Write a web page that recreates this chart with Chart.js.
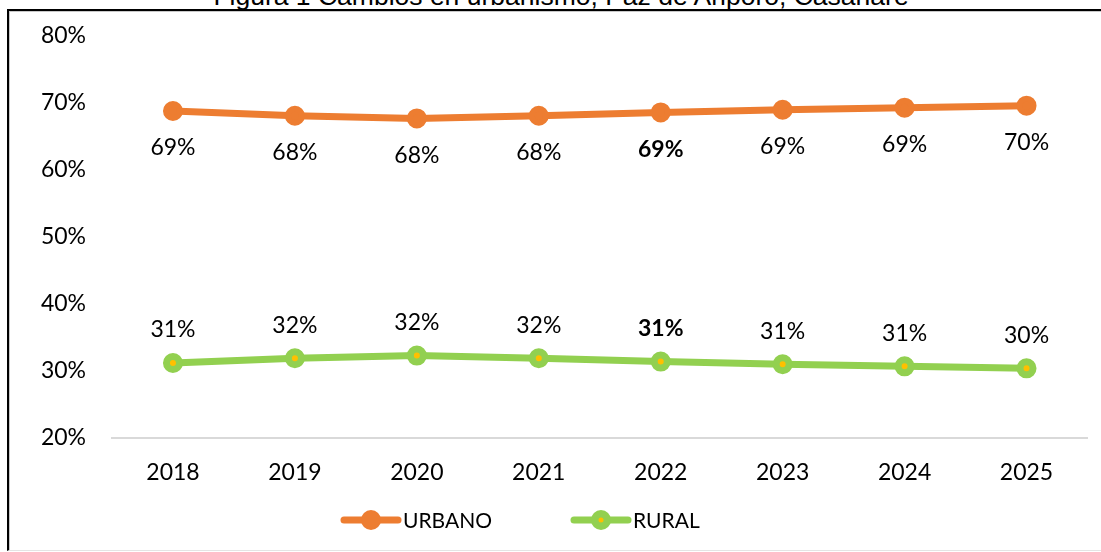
<!DOCTYPE html>
<html>
<head>
<meta charset="utf-8">
<script src="https://cdn.jsdelivr.net/npm/chart.js@4.4.1/dist/chart.umd.min.js"></script>
<style>
  html, body { margin: 0; padding: 0; background: #fff; overflow: hidden; }
  #page { width: 1101px; height: 552px; position: relative; overflow: hidden; }
  #title {
    position: absolute; left: 0; width: 1122px; top: -17px;
    text-align: center; font: 26.5px/1 "Liberation Sans", Arial, sans-serif; color: #000;
    white-space: nowrap;
  }
  #frame {
    position: absolute; left: 7px; top: 9px; width: 1092px; height: 539px;
    border-top: 2px solid #000; border-left: 2px solid #000;
    border-bottom: 1px solid #e4e4e4;
    box-shadow: inset 1px 1px 0 #c8c8c8;
  }
  #wrap { position: absolute; left: 10px; top: 12px; width: 1091px; height: 537px; }
</style>
</head>
<body>
<div id="page">
<div id="title">Figura 1 Cambios en urbanismo, Paz de Ariporo, Casanare</div>
<div id="frame"></div>
<div id="wrap"><canvas id="chart" width="1091" height="537"></canvas></div>
</div>
<script>
const years = ["2018", "2019", "2020", "2021", "2022", "2023", "2024", "2025"];
const urbano = [68.8, 68.1, 67.7, 68.1, 68.6, 69.0, 69.3, 69.6];
const rural = [31.2, 31.9, 32.3, 31.9, 31.4, 31.0, 30.7, 30.4];
const yTicks = [20, 30, 40, 50, 60, 70, 80];

const FONT = "Lato, 'Open Sans', sans-serif";
const boldIndex = 4;

// value labels under the orange line, over the green one
const valueLabels = {
  id: "valueLabels",
  afterDatasetsDraw(chart) {
    const ctx = chart.ctx;
    const offsets = [37, -33];
    ctx.save();
    ctx.fillStyle = "#000";
    ctx.textAlign = "center";
    ctx.textBaseline = "middle";
    chart.data.datasets.forEach((ds, i) => {
      chart.getDatasetMeta(i).data.forEach((pt, j) => {
        ctx.font = (j === boldIndex ? "bold " : "") + "23px " + FONT;
        ctx.fillText(Math.round(ds.data[j]) + "%", pt.x, pt.y + offsets[i]);
      });
    });
    ctx.restore();
  }
};

// excel-like legend: line + marker + text
const lineLegend = {
  id: "lineLegend",
  afterDraw(chart) {
    const ctx = chart.ctx;
    const starts = [331, 561];
    const y = 508;
    ctx.save();
    chart.data.datasets.forEach((ds, i) => {
      const x = starts[i];
      ctx.strokeStyle = ds.borderColor;
      ctx.lineWidth = 7;
      ctx.lineCap = "round";
      ctx.beginPath();
      ctx.moveTo(x + 3, y);
      ctx.lineTo(x + 57, y);
      ctx.stroke();
      ctx.fillStyle = ds.borderColor;
      ctx.beginPath();
      ctx.arc(x + 30, y, 10, 0, Math.PI * 2);
      ctx.fill();
      if (ds.pointBackgroundColor !== ds.borderColor) {
        ctx.fillStyle = ds.pointBackgroundColor;
        ctx.beginPath();
        ctx.arc(x + 30, y, 2.5, 0, Math.PI * 2);
        ctx.fill();
      }
      ctx.fillStyle = "#000";
      ctx.font = "21px " + FONT;
      ctx.textBaseline = "middle";
      ctx.fillText(ds.label, x + 62, y + 1);
    });
    ctx.restore();
  }
};

new Chart(document.getElementById("chart"), {
  type: "line",
  data: {
    labels: years,
    datasets: [
      {
        label: "URBANO",
        data: urbano,
        borderColor: "#ED7D31",
        backgroundColor: "#ED7D31",
        pointBackgroundColor: "#ED7D31",
        pointBorderColor: "#ED7D31",
        borderWidth: 7,
        pointRadius: 7,
        pointBorderWidth: 6,
        tension: 0,
        borderCapStyle: "round",
      },
      {
        label: "RURAL",
        data: rural,
        borderColor: "#92D050",
        backgroundColor: "#92D050",
        pointBackgroundColor: "#FFC000",
        pointBorderColor: "#92D050",
        borderWidth: 7,
        pointRadius: 6.5,
        pointBorderWidth: 7,
        tension: 0,
        borderCapStyle: "round",
      },
    ],
  },
  options: {
    responsive: false,
    devicePixelRatio: 1,
    animation: false,
    layout: { padding: { top: 24, right: 13, bottom: 61, left: 0 } },
    plugins: {
      legend: { display: false },
      tooltip: { enabled: false },
    },
    scales: {
      x: {
        offset: true,
        grid: { display: false, drawTicks: false },
        border: { display: true, color: "#d9d9d9", width: 2 },
        ticks: { color: "#000", padding: 21, font: { family: FONT, size: 23 } },
        afterFit(scale) { scale.height = 50; },
      },
      y: {
        min: yTicks[0],
        max: yTicks[yTicks.length - 1],
        afterBuildTicks(scale) { scale.ticks = yTicks.map(v => ({ value: v })); },
        grid: { display: false, drawTicks: false },
        border: { display: false },
        ticks: {
          color: "#000",
          padding: 26,
          font: { family: FONT, size: 23 },
          callback: v => v + "%",
        },
        afterFit(scale) {
          scale.width = 102;
          scale.paddingTop = 0;
          scale.paddingBottom = 0;
        },
      },
    },
  },
  plugins: [valueLabels, lineLegend],
});
</script>
</body>
</html>
